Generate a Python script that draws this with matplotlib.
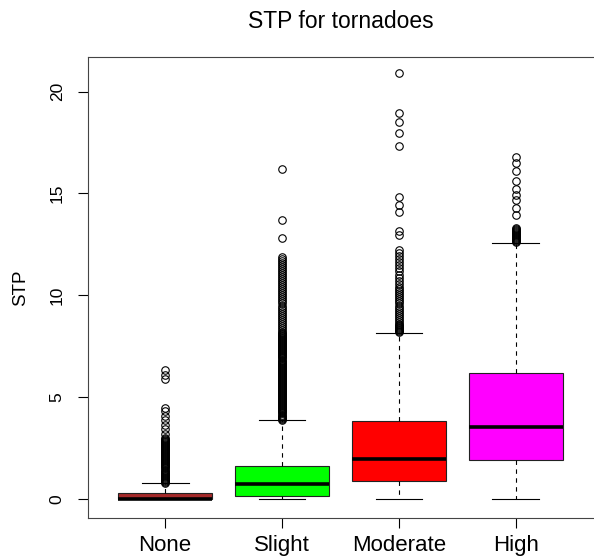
import matplotlib
matplotlib.use("Agg")
import matplotlib.pyplot as plt

# категории и цвета
categories = ["None", "Slight", "Moderate", "High"]
box_colors = ["#A52A2A", "#00FF00", "#FF0000", "#FF00FF"]

# статистика ящиков
whislo = [0.0, 0.0, 0.0, 0.0]
q1 = [0.0, 0.15, 0.88, 1.91]
medians = [0.0, 0.73, 1.96, 3.53]
q3 = [0.3, 1.62, 3.82, 6.17]
whishi = [0.78, 3.87, 8.14, 12.55]

# выбросы
none_out = [0.80, 0.85, 0.90, 0.95, 1.00, 1.05, 1.10, 1.15, 1.20, 1.25,
            1.30, 1.35, 1.40, 1.45, 1.50, 1.55, 1.60, 1.65, 1.70, 1.75,
            1.80, 1.85, 1.90, 1.95, 2.00, 2.05, 2.10, 2.15, 2.20, 2.25,
            2.30, 2.35, 2.40, 2.45, 2.50, 2.55, 2.60, 2.65, 2.70, 2.75,
            2.80, 2.85, 2.90, 2.95, 3.00,
            3.2, 3.45, 3.65, 3.9, 4.1, 4.3, 4.45, 5.9, 6.1, 6.35]
slight_out = [3.90, 3.95, 4.00, 4.05, 4.10, 4.15, 4.20, 4.25, 4.30, 4.35,
              4.40, 4.45, 4.50, 4.55, 4.60, 4.65, 4.70, 4.75, 4.80, 4.85,
              4.90, 4.95, 5.00, 5.05, 5.10, 5.15, 5.20, 5.25, 5.30, 5.35,
              5.40, 5.45, 5.50, 5.55, 5.60, 5.65, 5.70, 5.75, 5.80, 5.85,
              5.90, 5.95, 6.00, 6.05, 6.10, 6.15, 6.20, 6.25, 6.30, 6.35,
              6.40, 6.45, 6.50, 6.55, 6.60, 6.65, 6.70, 6.75, 6.80, 6.85,
              6.90, 6.95, 7.00, 7.05, 7.10, 7.15, 7.20, 7.25, 7.30, 7.35,
              7.40, 7.45, 7.50, 7.55, 7.60, 7.65, 7.70, 7.75, 7.80, 7.85,
              7.90, 7.95, 8.00, 8.05, 8.10, 8.15, 8.20,
              8.3, 8.4, 8.5, 8.6, 8.7, 8.8, 8.9, 9.0, 9.1, 9.2, 9.3, 9.4,
              9.5, 9.6, 9.7, 9.8, 9.9, 10.0, 10.1, 10.2, 10.3, 10.4, 10.5,
              10.6, 10.7, 10.8, 10.9, 11.0, 11.1, 11.2, 11.3, 11.4, 11.5,
              11.6, 11.7, 11.8, 11.9,
              12.8, 13.7, 16.2]
moderate_out = [8.20, 8.25, 8.30, 8.35, 8.40, 8.45, 8.50, 8.55, 8.60,
                8.7, 8.8, 8.9, 9.0, 9.1, 9.2, 9.3, 9.4, 9.5, 9.6, 9.7,
                9.8, 9.9, 10.0, 10.1, 10.2, 10.3, 10.4, 10.55, 10.7, 10.85,
                11.0, 11.2, 11.35, 11.5, 11.65, 11.8, 11.95, 12.1, 12.25,
                12.95, 13.15, 14.1, 14.45, 14.85, 17.35, 17.95, 18.5,
                18.95, 20.9]
high_out = [12.60, 12.65, 12.70, 12.75, 12.80, 12.85, 12.90, 12.95, 13.00,
            13.05, 13.10, 13.15, 13.20, 13.25, 13.30,
            13.95, 14.3, 14.7, 14.95, 15.2, 15.6, 16.1, 16.5, 16.8]
fliers = [none_out, slight_out, moderate_out, high_out]

yticks = [0, 5, 10, 15, 20]

plt.rcParams['font.family'] = ['Liberation Sans', 'DejaVu Sans']

fig = plt.figure(figsize=(5.94, 5.59), dpi=100)
ax = fig.add_axes([88 / 594, 1 - 518 / 559, 505 / 594, 461 / 559])

stats = []
for i in range(len(categories)):
    stats.append({
        'whislo': whislo[i], 'q1': q1[i], 'med': medians[i], 'q3': q3[i],
        'whishi': whishi[i], 'fliers': fliers[i], 'label': categories[i],
    })

res = ax.bxp(stats, positions=[1, 2, 3, 4], widths=0.8, patch_artist=True,
             capwidths=0.4,
             boxprops=dict(edgecolor='#222222', linewidth=0.8),
             medianprops=dict(color='black', linewidth=2.6, solid_capstyle='butt'),
             whiskerprops=dict(color='black', linewidth=0.8, linestyle=(0, (4, 4))),
             capprops=dict(color='black', linewidth=0.8),
             flierprops=dict(marker='o', markerfacecolor='none',
                             markeredgecolor='black', markersize=5.4,
                             markeredgewidth=0.8))
for patch, c in zip(res['boxes'], box_colors):
    patch.set_facecolor(c)

ax.set_xlim(0.34, 4.66)
ax.set_ylim(-0.93, 21.7)
ax.set_yticks(yticks)
ax.set_yticklabels([str(v) for v in yticks], rotation=90, va='center', ha='center')
ax.tick_params(axis='y', length=7.2, width=0.8, pad=15, labelsize=12.5, colors='black')
ax.tick_params(axis='x', length=7.2, width=0.8, pad=5, labelsize=16)

for s in ['left', 'bottom', 'top']:
    ax.spines[s].set_color('#444444')
    ax.spines[s].set_linewidth(0.8)
ax.spines['right'].set_visible(False)

ax.set_ylabel("STP", fontsize=13.5)
ax.yaxis.set_label_coords((29 - 88) / 505, 0.5)

fig.text(340.5 / 594, 1 - 28 / 559, "STP for tornadoes", ha='center',
         va='baseline', fontsize=16.5)

fig.savefig("out.png", dpi=100)
